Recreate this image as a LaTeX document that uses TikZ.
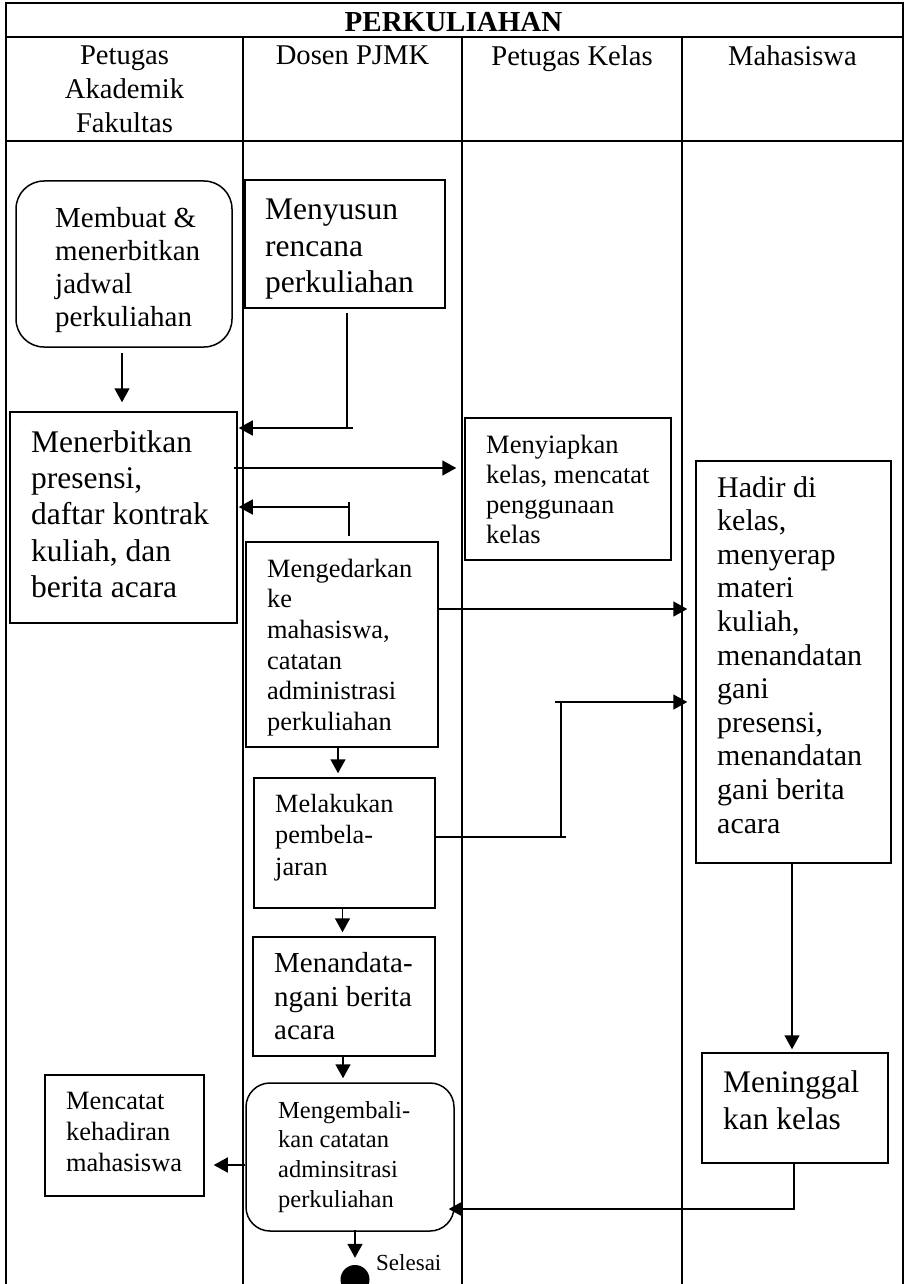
\documentclass[tikz,border=0pt]{standalone}
\usepackage{fontspec}
\setmainfont{Liberation Serif}
\usetikzlibrary{arrows.meta}
\newcommand\myfs[2]{\fontsize{#1}{#2}\selectfont}
\begin{document}
\begin{tikzpicture}[x=1pt,y=-1pt,
  lane/.style={line width=2pt},
  box/.style={draw, line width=1.5pt, inner sep=0pt},
  rbox/.style={box, rounded corners=#1},
  lbl/.style={anchor=west, align=left, inner sep=0pt},
  hdr/.style={anchor=north, align=center, inner sep=0pt, font=\myfs{28.6}{34}},
  conn/.style={line width=1.6pt},
  arr/.style={conn, -{Triangle[length=14pt,width=15pt]}}]
\useasboundingbox (0,0) rectangle (905,1284);

% frame, title row, header row and swimlanes
\draw[lane] (6,1290) -- (6,3) -- (903,3) -- (903,1290);
\draw[lane] (6,37) -- (903,37);
\draw[lane] (6,141) -- (903,141);
\foreach \lx in {243,462,682} \draw[lane] (\lx,37) -- (\lx,1290);

\node[anchor=base, inner sep=0pt, font=\bfseries\myfs{29}{34}] (title) at (453.5,32) {PERKULIAHAN};
\node[hdr] (h1) at (124.5,46) {Petugas\\Akademik\\Fakultas};
\node[hdr] (h2) at (352.5,46) {Dosen PJMK};
\node[hdr] (h3) at (572,45.5) {Petugas Kelas};
\node[hdr] (h4) at (792.5,45.5) {Mahasiswa};

% activity boxes
\node[rbox=28pt, minimum width=216pt, minimum height=166pt] (b1) at (124,264) {};
\node[box, minimum width=200pt, minimum height=128pt] (b2) at (345,244) {};
\node[box, minimum width=227pt, minimum height=211pt] (b3) at (123.5,517.5) {};
\node[box, minimum width=206pt, minimum height=142pt] (b4) at (568,489) {};
\node[box, minimum width=192pt, minimum height=205pt] (b5) at (342,644.5) {};
\node[box, minimum width=195pt, minimum height=402pt] (b6) at (793.5,662) {};
\node[box, minimum width=181pt, minimum height=130pt] (b7) at (344.5,843) {};
\node[box, minimum width=182pt, minimum height=119pt] (b8) at (344,996.5) {};
\node[rbox=24pt, minimum width=208pt, minimum height=148pt] (b9) at (350,1157) {};
\node[box, minimum width=159pt, minimum height=121pt] (b10) at (124.5,1135.5) {};
\node[box, minimum width=186pt, minimum height=110pt] (b11) at (795,1108) {};
\node[circle, fill, minimum size=29pt, inner sep=0pt] (e) at (355,1279.5) {};

% box texts
\node[lbl, font=\myfs{29}{33}] (t1) at (55,270.5) {Membuat \&\\menerbitkan\\jadwal\\perkuliahan};
\node[lbl, font=\myfs{31.5}{36.5}] (t2) at (265,249.5) {Menyusun\\rencana\\perkuliahan};
\node[lbl, font=\myfs{31.5}{36.3}] (t3) at (31,514) {Menerbitkan\\presensi,\\daftar kontrak\\kuliah, dan\\berita acara};
\node[lbl, font=\myfs{26.5}{30}] (t4) at (486,489) {Menyiapkan\\kelas, mencatat\\penggunaan\\kelas};
\node[lbl, font=\myfs{26.4}{30.6}] (t5) at (267,647.4) {Mengedarkan\\ke\\mahasiswa,\\catatan\\administrasi\\perkuliahan};
\node[lbl, font=\myfs{30}{33.6}] (t6) at (717,654.8) {Hadir di\\kelas,\\menyerap\\materi\\kuliah,\\menandatan\\gani\\presensi,\\menandatan\\gani berita\\acara};
\node[lbl, font=\myfs{26.3}{31.7}] (t7) at (275,837.4) {Melakukan\\pembela-\\jaran};
\node[lbl, font=\myfs{29}{33.5}] (t8) at (274,996.5) {Menandata-\\ngani berita\\acara};
\node[lbl, font=\myfs{24.5}{29.7}] (t9) at (278,1156.7) {Mengembali-\\kan catatan\\adminsitrasi\\perkuliahan};
\node[lbl, font=\myfs{26.4}{31}] (t10) at (66,1132) {Mencatat\\kehadiran\\mahasiswa};
\node[lbl, font=\myfs{31.4}{37}] (t11) at (723,1099.8) {Meninggal\\kan kelas};
\node[anchor=base west, inner sep=0pt, font=\myfs{23}{27}] (sel) at (376,1270) {Selesai};

% routing points
\coordinate (c2) at (347,428);
\coordinate (c3) at (0,468);
\coordinate (c4) at (349,507);
\coordinate (c5) at (0,609);
\coordinate (c6) at (561,837);
\coordinate (c7) at (561,702);
\coordinate (c8) at (794,1209);
\coordinate (c10) at (0,1165);

% connectors
\draw[arr, shorten <=5pt, shorten >=9pt] ([xshift=-2pt]b1.south) -- ([xshift=-2pt]b1.south |- b3.north);
\draw[arr, shorten <=4pt, shorten >=1pt] (b2.south -| c2) -- (c2) -- (c2 -| b3.east);
\draw[conn] (c2) -- ++(6,0);
\draw[arr, shorten <=-4pt, shorten >=8pt] (b3.east |- c3) -- (b4.west |- c3);
\draw[arr, shorten <=5pt, shorten >=1pt] (b5.north -| c4) -- (c4) -- (c4 -| b3.east);
\draw[conn] (c4) -- ++(0,-5);
\draw[arr, shorten >=8pt] (b5.east |- c5) -- (b6.west |- c5);
\draw[arr, shorten >=4pt] ([xshift=-4pt]b5.south) -- ([xshift=-4pt]b5.south |- b7.north);
\draw[arr, shorten >=8pt] (b7.east |- c6) -- (c6) -- (c7) -- (c7 -| b6.west);
\draw[conn] (c6) -- ++(5,0);
\draw[conn] (c7) -- ++(-6,0);
\draw[arr, shorten >=4pt] ([xshift=-2pt]b7.south) -- ([xshift=-2pt]b7.south |- b8.north);
\draw[arr, shorten >=4pt] ([xshift=-1pt]b8.south) -- ([xshift=-1pt]b8.south |- b9.north);
\draw[arr, shorten >=9pt] (b9.west |- c10) -- (b10.east |- c10);
\draw[arr, shorten <=-2pt, shorten >=7pt] (b9.south -| e) -- (e.north);
\draw[arr, shorten >=3pt] ([xshift=-1.5pt]b6.south) -- ([xshift=-1.5pt]b6.south |- b11.north);
\draw[arr, shorten >=-6pt] (b11.south -| c8) -- (c8) -- (c8 -| b9.east);
\end{tikzpicture}
\end{document}
